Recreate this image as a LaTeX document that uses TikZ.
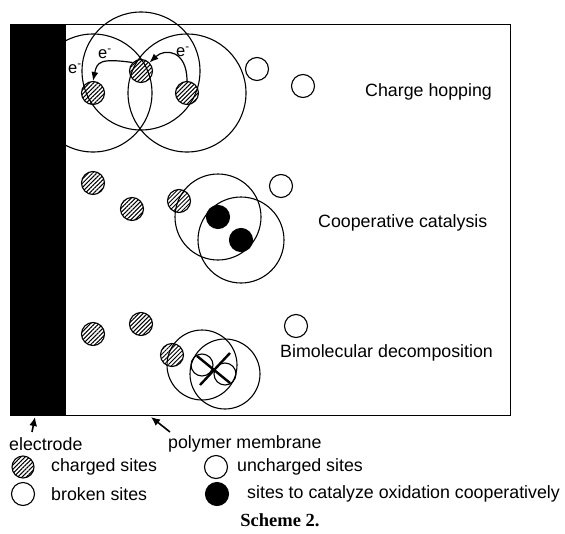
\documentclass[tikz,border=0pt]{standalone}
\usepackage{fontspec}
\setmainfont{Liberation Sans}
\newfontfamily\captionserif{Liberation Serif}
\usetikzlibrary{arrows.meta,patterns.meta}

\tikzset{
  site/.style={circle, draw, line width=1.1pt, minimum size=23pt, inner sep=0pt},
  chargedsite/.style={site, pattern={Lines[angle=45,distance=3pt,line width=1pt]}},
  catsite/.style={site, fill=black},
  zone/.style={line width=1.1pt},
  hop/.style={line width=1.2pt, -{Latex[length=9pt,width=7pt]}},
  pointer/.style={line width=1.6pt, -{Latex[length=9pt,width=8pt]}},
  lbl/.style={font=\fontsize{17.8}{20}\selectfont, inner sep=0pt, anchor=west},
  elabel/.style={font=\fontsize{16.5}{18}\selectfont, inner sep=0pt},
}

\begin{document}
\begin{tikzpicture}[x=1pt, y=-1pt]
\useasboundingbox (0,0) rectangle (565,533);

% membrane and electrode
\draw[line width=0.8pt] (10,24) rectangle (510,415);
\fill (10,24) rectangle (66,415);

% charge hopping
\node[chargedsite] (h1) at (93,93) {};
\node[chargedsite] (h2) at (141,71) {};
\node[chargedsite] (h3) at (187,93) {};
\node[site] (h4) at (257,69) {};
\node[site] (h5) at (303,86) {};
\foreach \s in {h1,h2,h3}
  \draw[zone] (\s) circle[radius=59pt];
\draw[hop] (h3.north) .. controls (187,50) and (165,48) .. (h2.45);
\draw[hop] (h2.north west) .. controls (100,58) and (97,62) .. (h1.north);
\node[elabel] (e1) at (75,69) {e\textsuperscript{-}};
\node[elabel] (e2) at (105,54) {e\textsuperscript{-}};
\node[elabel] (e3) at (183,52) {e\textsuperscript{-}};
\node[lbl] (hoplbl) at (365,92) {Charge hopping};

% cooperative catalysis
\node[chargedsite] (c1) at (93,183) {};
\node[chargedsite] (c2) at (132,209) {};
\node[chargedsite] (c3) at (179,201) {};
\node[catsite] (c4) at (218,217) {};
\node[catsite] (c5) at (241,240) {};
\node[site] (c6) at (281,186) {};
\foreach \s in {c4,c5}
  \draw[zone] (\s) circle[radius=43pt];
\node[lbl] (catlbl) at (318,223) {Cooperative catalysis};

% bimolecular decomposition
\node[chargedsite] (b1) at (93,334) {};
\node[chargedsite] (b2) at (141,324) {};
\node[chargedsite] (b3) at (172,355) {};
\node[site] (b4) at (296,326) {};
\node[site, minimum size=22pt] (b5) at (202,365) {};
\node[site, minimum size=22pt] (b6) at (225,374) {};
\foreach \s in {b5,b6}
  \draw[zone] (\s) circle[radius=35pt];
\draw[line width=2.4pt] (197,356) -- (230,383);
\draw[line width=2.4pt] (200,385) -- (230,353);
\node[lbl] (declbl) at (280,353) {Bimolecular decomposition};

% pointers
\node[lbl] (elec) at (9,444) {electrode};
\node[lbl] (memb) at (168,444) {polymer membrane};
\coordinate (etail) at (32,432);
\coordinate (etip) at (35,417);
\coordinate (mtail) at (170,432);
\coordinate (mtip) at (151,417);
\draw[pointer] (etail) -- (etip);
\draw[pointer] (mtail) -- (mtip);

% legend
\node[chargedsite, minimum size=22pt] (k1) at (23,467) {};
\node[lbl] (k1t) at (51,467) {charged sites};
\node[site] (k2) at (216,467) {};
\node[lbl] (k2t) at (237,467) {uncharged sites};
\node[site] (k3) at (23,494) {};
\node[lbl] (k3t) at (51,494) {broken sites};
\node[catsite] (k4) at (217,494) {};
\node[lbl] (k4t) at (247,494) {sites to catalyze oxidation cooperatively};

\node[font=\captionserif\bfseries\fontsize{18.5}{20}\selectfont] (cap) at (280,520) {Scheme 2.};
\end{tikzpicture}
\end{document}
